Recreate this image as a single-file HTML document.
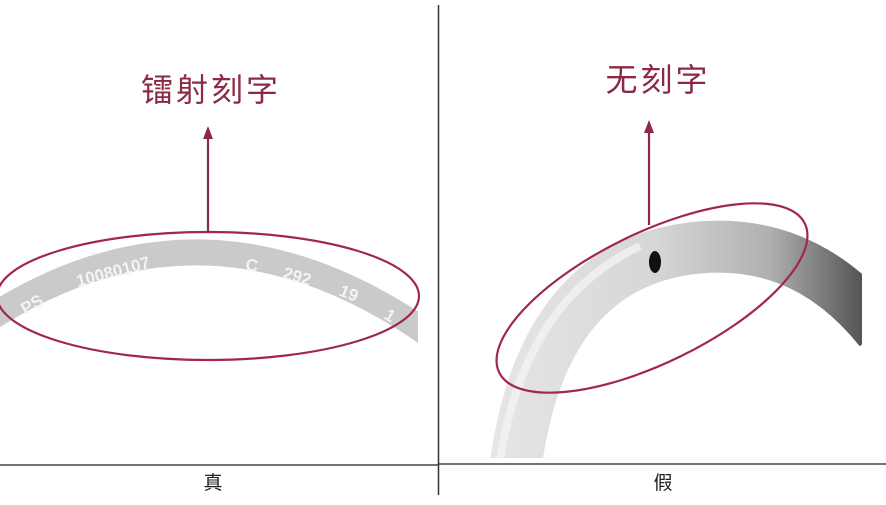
<!DOCTYPE html>
<html><head><meta charset="utf-8"><style>
html,body{margin:0;padding:0;background:#fff;width:886px;height:505px;overflow:hidden}
</style></head><body>
<svg width="886" height="505" viewBox="0 0 886 505" xmlns="http://www.w3.org/2000/svg">
<defs>
<linearGradient id="g2" x1="490" y1="0" x2="862" y2="0" gradientUnits="userSpaceOnUse">
<stop offset="0" stop-color="#e6e6e6"/><stop offset="0.45" stop-color="#d6d6d6"/><stop offset="0.75" stop-color="#b0b0b0"/><stop offset="1" stop-color="#555"/>
</linearGradient>
<clipPath id="cr"><rect x="440" y="0" width="422" height="458"/></clipPath>
<clipPath id="cl"><rect x="0" y="0" width="418" height="458"/></clipPath>
</defs>
<!-- left ring -->
<g clip-path="url(#cl)">
<path d="M-10,318 Q205,180 425,332" fill="none" stroke="#cacaca" stroke-width="26"/>
</g>
<g fill="#f4f4f4" font-family="Liberation Sans, sans-serif" font-weight="bold" font-size="17">
<text x="25" y="315" transform="rotate(-30 25 315)">PS</text>
<text x="78" y="287" transform="rotate(-15 78 287)">10080107</text>
<text x="245" y="270" transform="rotate(8 245 270)">C</text>
<text x="282" y="278" transform="rotate(16 282 278)">292</text>
<text x="338" y="295" transform="rotate(22 338 295)">19</text>
<text x="383" y="318" transform="rotate(30 383 318)">1</text>
</g>
<ellipse cx="208" cy="296" rx="211" ry="64" fill="none" stroke="#a0284a" stroke-width="2.2"/>
<line x1="208" y1="232" x2="208" y2="138" stroke="#8c2a45" stroke-width="2.2"/>
<polygon points="208,126 203,139 213,139" fill="#8c2a45"/>
<text x="211" y="101" text-anchor="middle" font-family="Liberation Sans, Noto Sans CJK SC, sans-serif" font-size="32" letter-spacing="3" fill="#8c2a45">镭射刻字</text>
<!-- right ring -->
<g clip-path="url(#cr)">
<path d="M515,470 Q540,275 680,250 Q800,230 880,330" fill="none" stroke="url(#g2)" stroke-width="52"/>
<path d="M500,460 Q525,300 640,246" fill="none" stroke="#f3f3f3" stroke-width="8" opacity="0.8"/>
</g>
<ellipse cx="655" cy="262" rx="6" ry="11" fill="#111"/>
<ellipse cx="652" cy="298" rx="170" ry="65" transform="rotate(-26 652 298)" fill="none" stroke="#a0284a" stroke-width="2.2"/>
<line x1="649" y1="225" x2="649" y2="132" stroke="#8c2a45" stroke-width="2.2"/>
<polygon points="649,120 644,133 654,133" fill="#8c2a45"/>
<text x="658" y="91" text-anchor="middle" font-family="Liberation Sans, Noto Sans CJK SC, sans-serif" font-size="32" letter-spacing="3" fill="#8c2a45">无刻字</text>
<!-- frame lines -->
<line x1="0" y1="465" x2="438" y2="465" stroke="#444" stroke-width="1.5"/>
<line x1="438" y1="464" x2="886" y2="464" stroke="#444" stroke-width="1.5"/>
<line x1="438.5" y1="5" x2="438.5" y2="495" stroke="#333" stroke-width="1.5"/>
<text x="213" y="489" text-anchor="middle" font-family="Liberation Sans, Noto Sans CJK SC, sans-serif" font-size="19" fill="#222">真</text>
<text x="663" y="489" text-anchor="middle" font-family="Liberation Sans, Noto Sans CJK SC, sans-serif" font-size="19" fill="#222">假</text>
</svg>
</body></html>
